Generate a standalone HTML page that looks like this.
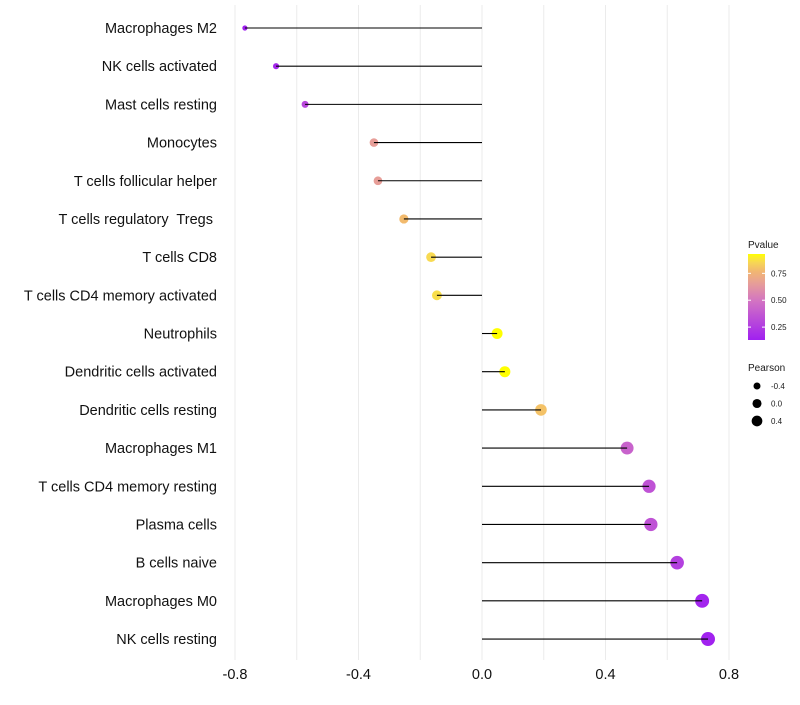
<!DOCTYPE html>
<html><head><meta charset="utf-8"><style>
body{margin:0;background:#fff;font-family:"Liberation Sans",sans-serif}
text{white-space:pre}
</style></head><body>
<svg id="c" width="800" height="700" xmlns="http://www.w3.org/2000/svg"></svg>
<script>
const categories=["Macrophages M2","NK cells activated","Mast cells resting","Monocytes","T cells follicular helper","T cells regulatory  Tregs ","T cells CD8","T cells CD4 memory activated","Neutrophils","Dendritic cells activated","Dendritic cells resting","Macrophages M1","T cells CD4 memory resting","Plasma cells","B cells naive","Macrophages M0","NK cells resting"];
const pearson=[-0.768,-0.667,-0.573,-0.35,-0.337,-0.253,-0.165,-0.146,0.049,0.074,0.191,0.47,0.541,0.547,0.632,0.713,0.732];
const pvalue=[0.13,0.16,0.3,0.66,0.66,0.78,0.86,0.87,0.93,0.93,0.8,0.42,0.35,0.35,0.27,0.15,0.14];
const xTicks=[-0.8,-0.4,0,0.4,0.8];
const xTickLabels=["-0.8","-0.4","0.0","0.4","0.8"];
const gridVals=[-0.8,-0.6,-0.4,-0.2,0,0.2,0.4,0.6,0.8];
const legendPearson=[-0.4,0,0.4];
const legendP=[0.25,0.5,0.75];

const NS="http://www.w3.org/2000/svg";
const svg=document.getElementById('c');
const x=v=>482+v*308.75;
const y=i=>28+i*38.19;
const pMin=Math.min(...pearson),pMax=Math.max(...pearson);
const r=v=>{const t=Math.max(0,(v-pMin)/(pMax-pMin));return Math.sqrt(6.6+42.4*t);};
const stops=[[0,[160,32,240]],[0.45,[210,115,195]],[0.67,[232,160,150]],[0.81,[242,185,110]],[0.92,[248,220,80]],[1,[255,255,0]]];
function col(p){let t=(p-0.13)/(0.93-0.13);t=Math.max(0,Math.min(1,t));
 for(let k=1;k<stops.length;k++){if(t<=stops[k][0]){const a=stops[k-1],b=stops[k];const u=(t-a[0])/(b[0]-a[0]);
 const c=a[1].map((v,j)=>Math.round(v+(b[1][j]-v)*u));return `rgb(${c})`;}}return 'rgb(255,255,0)';}
function el(t,at,txt){const e=document.createElementNS(NS,t);for(const k in at)e.setAttribute(k,at[k]);if(txt!=null)e.textContent=txt;svg.appendChild(e);return e;}

gridVals.forEach(v=>{const g=el('line',{x1:x(v),x2:x(v),y1:5,y2:660,stroke:'#ebebeb','stroke-width':1});

});
categories.forEach((c,i)=>{
 const t=el('text',{x:217,y:y(i)+5,'text-anchor':'end','font-size':14.5,fill:'#111'},c);
 
 
 const p=el('circle',{cx:x(pearson[i]),cy:y(i),r:r(pearson[i]),fill:col(pvalue[i])});
 
 
 const s=el('line',{x1:x(0),x2:x(pearson[i]),y1:y(i),y2:y(i),stroke:'#000','stroke-width':1.1});
 
 
});
xTicks.forEach((v,i)=>{const t=el('text',{x:x(v),y:679,'text-anchor':'middle','font-size':14.5,fill:'#111'},xTickLabels[i]);

});

const lt=el('text',{x:748,y:248,'font-size':10,fill:'#1a1a1a'},'Pvalue');


const defs=el('defs',{});
const lg=document.createElementNS(NS,'linearGradient');lg.setAttribute('id','g');lg.setAttribute('x1','0');lg.setAttribute('y1','1');lg.setAttribute('x2','0');lg.setAttribute('y2','0');
for(let k=0;k<=20;k++){const s=document.createElementNS(NS,'stop');s.setAttribute('offset',k/20);s.setAttribute('stop-color',col(0.13+0.8*k/20));lg.appendChild(s);}
defs.appendChild(lg);
const bar=el('rect',{x:748,y:254,width:17,height:86,fill:'url(#g)'});


legendP.forEach(p=>{const yy=340-(p-0.13)/0.8*86;
 el('line',{x1:748,x2:751,y1:yy,y2:yy,stroke:'#fff'});el('line',{x1:762,x2:765,y1:yy,y2:yy,stroke:'#fff'});
 const t=el('text',{x:771,y:yy+3,'font-size':8,fill:'#1a1a1a'},p.toFixed(2));
 
 });
const pt=el('text',{x:748,y:371,'font-size':10,fill:'#1a1a1a'},'Pearson');


legendPearson.forEach((v,i)=>{const yy=386+i*17.5;
 const c=el('circle',{cx:757,cy:yy,r:r(v)*0.85,fill:'#000'});
 
 
 const t=el('text',{x:771,y:yy+3,'font-size':8,fill:'#1a1a1a'},v.toFixed(1));
 
 });
</script>
</body></html>
